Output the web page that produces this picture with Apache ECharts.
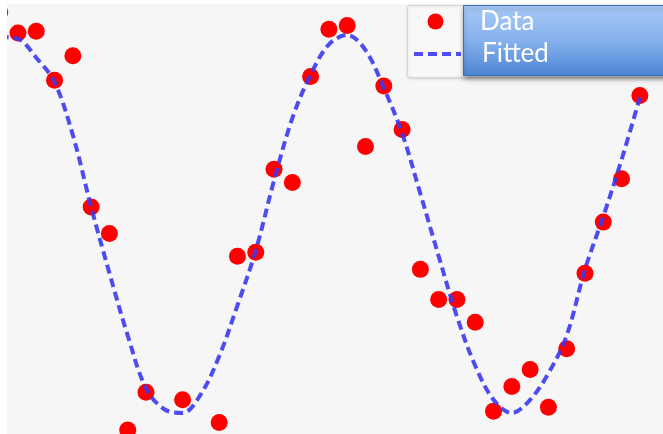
<!DOCTYPE html>
<html>
<head>
<meta charset="utf-8">
<script src="https://cdn.jsdelivr.net/npm/echarts@6/dist/echarts.min.js"></script>
<style>
  html, body { margin: 0; padding: 0; background: #ffffff; }
  #chart { width: 663px; height: 434px; }
</style>
</head>
<body>
<div id="chart"></div>
<script>
// Sample times shared by the measurements and the fitted curve
var sampleX = [-0.2, 0.0, 0.2, 0.4, 0.6, 0.8, 1.0, 1.2, 1.4, 1.6, 1.8, 2.0,
               2.2, 2.4, 2.6, 2.8, 3.0, 3.2, 3.4, 3.6, 3.8, 4.0, 4.2, 4.4,
               4.6, 4.8, 5.0, 5.2, 5.4, 5.6, 5.8, 6.0, 6.2, 6.4, 6.6, 6.8];

// Noisy measurements (null = sample outside the visible window)
var measuredY = [1.12, 1.01, 1.02, 0.76, 0.89, 0.09, -0.05, -1.09, -0.89, null, -0.93, null,
                 -1.05, -0.17, -0.15, 0.29, 0.22, 0.78, 1.03, 1.05, 0.41, 0.73, 0.50, -0.24,
                 -0.40, -0.40, -0.52, -0.99, -0.86, -0.77, -0.97, -0.66, -0.26, 0.01, 0.24, 0.68];

// Fitted model evaluated at the sample times
var fittedY = [0.99, 0.98, 0.88, 0.75, 0.47, 0.09, -0.26, -0.59, -0.87, -0.98, -1.00, -0.90,
               -0.70, -0.43, -0.14, 0.23, 0.56, 0.79, 0.95, 1.00, 0.92, 0.72, 0.48, 0.16,
               -0.17, -0.49, -0.75, -0.93, -1.00, -0.93, -0.79, -0.59, -0.24, 0.04, 0.34, 0.67];

var seriesNames = ['Data', 'Fitted'];

var scatterData = [];
var lineData = [];
for (var k = 0; k < sampleX.length; k++) {
  if (measuredY[k] !== null) scatterData.push([sampleX[k], measuredY[k]]);
  lineData.push([sampleX[k], fittedY[k]]);
}

var lineColor = '#3a3af2';

// one legend box per entry so each row can be placed on its own;
// the box is positioned by its drawn content, so the round marker
// (centred in a 47px slot) needs its own left offset
function legendRow(entry, left, top) {
  return {
    orient: 'vertical',
    left: left, top: top,
    padding: 0,
    itemWidth: 47, itemHeight: 16,
    selectedMode: false,
    data: [entry],
    lineStyle: { width: 4, type: [9, 5] },
    textStyle: {
      color: '#ffffff',
      fontFamily: 'Lato',
      fontSize: 26,
      lineHeight: 24,
      padding: [0, 0, 0, 16]
    },
    z: 20
  };
}

var chart = echarts.init(document.getElementById('chart'), null, { renderer: 'canvas' });

chart.setOption({
  backgroundColor: '#ffffff',
  animation: false,
  grid: {
    left: 7, top: 4, right: 0, bottom: 0,
    show: true,
    backgroundColor: '#f6f6f6',
    borderWidth: 0
  },
  xAxis: {
    type: 'value', min: -0.12, max: 7.053, show: false,
    splitLine: { show: false }
  },
  yAxis: {
    type: 'value', min: -1.111, max: 1.164, show: false,
    splitLine: { show: false }
  },
  legend: [
    legendRow({ name: seriesNames[0] }, 427.5, 8.5),
    // line-only key: hide the marker drawn in the middle of the line
    legendRow({ name: seriesNames[1], itemStyle: { opacity: 0 } }, 412, 41)
  ],
  graphic: [
    // white margins around the plotting area
    { type: 'rect', shape: { x: 0, y: 0, width: 7, height: 434 }, style: { fill: '#ffffff' }, z: 10, silent: true },
    { type: 'rect', shape: { x: 0, y: 0, width: 663, height: 4 }, style: { fill: '#ffffff' }, z: 10, silent: true },
    // legend frame
    {
      type: 'rect', z: 11, silent: true,
      shape: { x: 407.5, y: 5.5, width: 300, height: 72, r: 2 },
      style: {
        fill: '#f8f8f8', stroke: '#d4d4d4', lineWidth: 1,
        shadowBlur: 3, shadowColor: 'rgba(0,0,0,0.12)', shadowOffsetY: 1
      }
    },
    // label panel
    {
      type: 'rect', z: 12, silent: true,
      shape: { x: 463.5, y: 5.5, width: 220, height: 70 },
      style: {
        fill: new echarts.graphic.LinearGradient(0, 0, 0, 1, [
          { offset: 0, color: '#a8cbf8' },
          { offset: 0.5, color: '#86b1ee' },
          { offset: 1, color: '#4c84d2' }
        ]),
        stroke: '#3c6db5', lineWidth: 1,
        shadowBlur: 5, shadowColor: 'rgba(0,0,0,0.4)', shadowOffsetY: 3
      }
    }
  ],
  series: [
    {
      name: 'Data',
      type: 'scatter',
      data: scatterData,
      symbol: 'circle',
      symbolSize: 17,
      clip: false,
      itemStyle: { color: '#ff0000', opacity: 1 },
      z: 2
    },
    {
      name: 'Fitted',
      type: 'line',
      data: lineData,
      smooth: 0.35,
      symbol: 'none',
      showSymbol: false,
      clip: true,
      lineStyle: { color: lineColor, width: 4, type: [9, 5], opacity: 0.9 },
      itemStyle: { color: lineColor },
      z: 3
    }
  ]
});
</script>
</body>
</html>
